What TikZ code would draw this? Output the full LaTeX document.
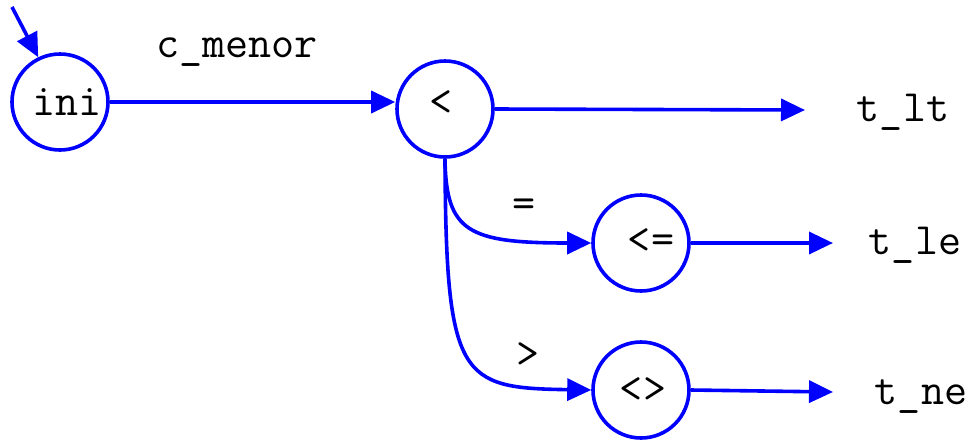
\documentclass[tikz,border=0pt]{standalone}
\usepackage{fontspec}
\usetikzlibrary{arrows.meta}
\begin{document}
\begin{tikzpicture}[x=0.5pt,y=-0.5pt,
  state/.style={circle,draw=blue,line width=1.8pt,minimum size=48pt,inner sep=0pt,font=\ttfamily\fontsize{22.4}{26}\selectfont},
  lbl/.style={font=\ttfamily\fontsize{22.4}{26}\selectfont,inner sep=0pt},
  edge/.style={draw=blue,line width=1.8pt,-{Triangle[length=12pt,width=11pt]}}]
\useasboundingbox (0,0) rectangle (974,440);
\node[state] (ini) at (60,102) {};
\node[lbl] at (67,102) {ini};
\node[state] (lt) at (445,109) {};
\node[lbl] at (441,103) {<};
\node[state] (le) at (641,243) {};
\node[lbl] at (651,241) {<=};
\node[state] (ne) at (641,390) {};
\node[lbl] at (643,390) {<>};
\coordinate (start) at (12,7);
\coordinate (olt) at (805,110);
\coordinate (ole) at (833,243);
\coordinate (one) at (833,392);
\node[lbl] (tlt) at (903,112) {t\_lt};
\node[lbl] (tle) at (915,245) {t\_le};
\node[lbl] (tne) at (921,397) {t\_ne};
\node[lbl] (cm) at (237,52) {c\_menor};
\node[lbl] (eq) at (524,208) {=};
\node[lbl] (gt) at (528,355) {>};
\draw[edge] (start) -- (ini.116);
\draw[edge] (ini.east) -- (ini.east -| lt.west);
\draw[edge] (lt.east) -- (olt);
\draw[edge] (le.east) -- (ole);
\draw[edge] (ne.east) -- (one);
\draw[edge] (lt.south) .. controls (446,232) and (468,243) .. (le.west);
\draw[edge] (lt.south) .. controls (446,380) and (460,388) .. (ne.west);
\end{tikzpicture}
\end{document}
